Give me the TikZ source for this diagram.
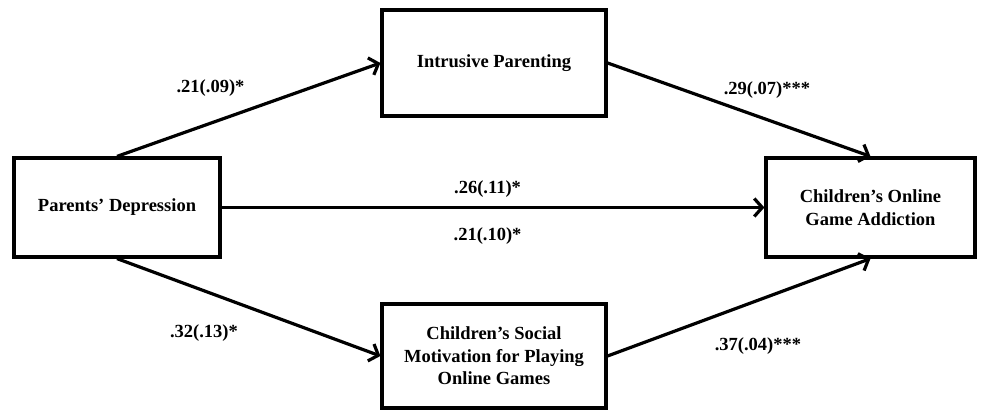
\documentclass[tikz,border=0pt]{standalone}
\usepackage{fontspec}
\setmainfont{Liberation Serif}
\usepackage{tikz}
\usetikzlibrary{arrows.meta, positioning, calc}

\begin{document}
\begin{tikzpicture}[x=1pt, y=-1pt, >={Straight Barb[length=8pt, width=18pt]},
  factor/.style={draw, line width=3.2pt, align=center, inner sep=2pt,
    font=\fontsize{18.5}{22.5}\selectfont\bfseries},
  arrowlabel/.style={draw=none, fill=none, font=\fontsize{18.5}{22.5}\selectfont\bfseries},
  path/.style={->, line width=3.2pt}]

  % Fix the page to the size of the reference
  \useasboundingbox (0,0) rectangle (989,411);

  % The four boxes of the model
  \node[factor, minimum width=206pt, minimum height=99pt] (PD) at (117,207.5) {Parents' Depression};
  \node[factor, minimum width=224pt, minimum height=106pt] (IP) at (494,63) {Intrusive Parenting};
  \node[factor, minimum width=224pt, minimum height=104pt] (SM) at (494,356) {Children's Social\\Motivation for Playing\\Online Games};
  \node[factor, minimum width=209pt, minimum height=99pt] (GA) at (870.5,207.5) {Children's Online\\Game Addiction};

  % Paths through intrusive parenting
  \draw[path] (PD.north) -- (IP.west) node[arrowlabel, pos=0.355, yshift=35pt] {.21(.09)*};
  \draw[path] (IP.east) -- (GA.north) node[arrowlabel, pos=0.606, yshift=30pt] {.29(.07)***};

  % Direct path, total and direct effects
  \draw[path] (PD.east) -- (GA.west)
    node[arrowlabel, pos=0.49, yshift=18pt] {.26(.11)*}
    node[arrowlabel, pos=0.49, yshift=-29pt] {.21(.10)*};

  % Paths through social motivation
  \draw[path] (PD.south) -- (SM.west) node[arrowlabel, pos=0.33, yshift=-42pt] {.32(.13)*};
  \draw[path] (SM.east) -- (GA.south) node[arrowlabel, pos=0.572, yshift=-46pt] {.37(.04)***};

\end{tikzpicture}
\end{document}
